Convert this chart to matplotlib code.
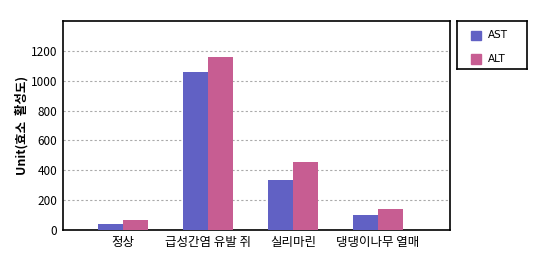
import matplotlib
matplotlib.use("Agg")
import matplotlib.pyplot as plt
import numpy as np
from matplotlib.patches import Rectangle

plt.rcParams['font.family'] = ['Noto Sans CJK KR', 'DejaVu Sans']

categories = ["정상", "급성간염 유발 쥐", "실리마린", "댕댕이나무 열매"]
ast = [38, 1056, 338, 102]
alt = [70, 1160, 458, 142]
series_names = ["AST", "ALT"]
yticks = [0, 200, 400, 600, 800, 1000, 1200]

c_ast = "#6161C4"
c_alt = "#C75D92"

fig = plt.figure(figsize=(5.35, 2.62), dpi=100)
ax = fig.add_axes([63/535, 1-230/262, (450-63)/535, (230-21)/262])

x = np.arange(len(categories))
w = 0.294
ax.bar(x - w/2, ast, w, color=c_ast, zorder=3)
ax.bar(x + w/2, alt, w, color=c_alt, zorder=3)

ax.set_xlim(-0.706, 3.847)
ax.set_ylim(0, 1400)
ax.set_yticks(yticks)
ax.set_yticklabels([str(v) for v in yticks], fontsize=8.5)
ax.set_xticks(x)
ax.set_xticklabels(categories, fontsize=9)
ax.tick_params(axis='both', length=0, pad=4)
ax.grid(axis='y', color='#AAAAAA', linestyle=(0, (2, 2)), linewidth=0.8, zorder=0)
for s in ax.spines.values():
    s.set_linewidth(1.2)
    s.set_color('black')

ax.set_ylabel("Unit(효소  활성도)", fontsize=9, fontweight='bold', labelpad=2)

# legend box drawn as its own axes
lax = fig.add_axes([457/535, 1-69/262, 70/535, 48/262])
lax.set_xlim(0, 70)
lax.set_ylim(48, 0)
lax.set_xticks([])
lax.set_yticks([])
for s in lax.spines.values():
    s.set_linewidth(1.2)
    s.set_color('black')
colors = [c_ast, c_alt]
for i, (name, c) in enumerate(zip(series_names, colors)):
    yc = 14.5 + i * 24
    lax.add_patch(Rectangle((14, yc - 5), 10, 10, color=c))
    lax.text(31, yc, name, fontsize=7.5, va='center', ha='left', family='DejaVu Sans')

fig.savefig("out.png", dpi=100)
